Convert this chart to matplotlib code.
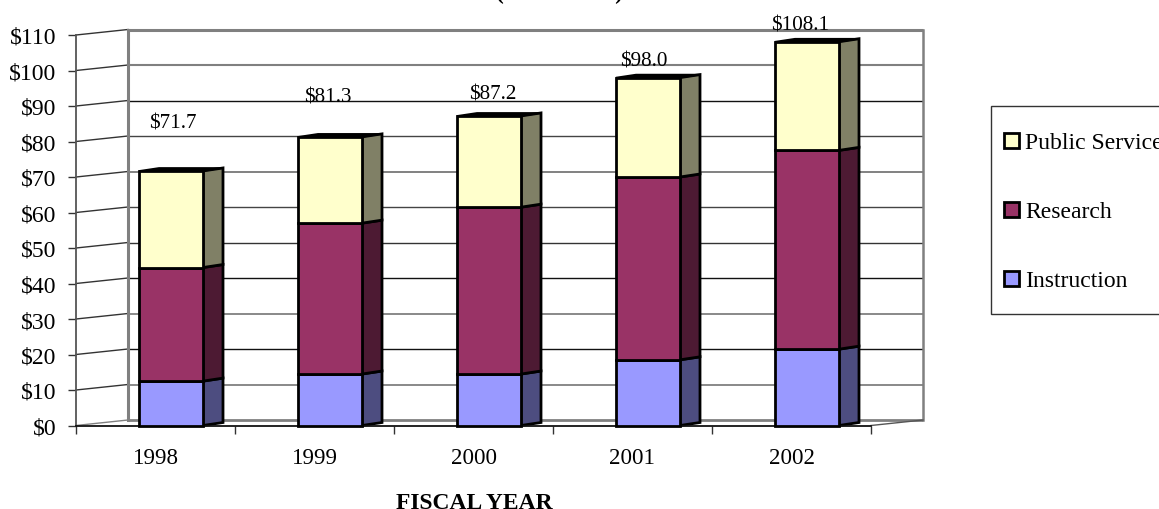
import matplotlib
matplotlib.use("Agg")
import matplotlib.pyplot as plt
from matplotlib.patches import Polygon, Rectangle

plt.rcParams['font.family'] = ['Liberation Serif', 'DejaVu Serif']

years = ['1998', '1999', '2000', '2001', '2002']
instruction = [12.5, 14.5, 14.5, 18.5, 21.5]
research = [32.0, 42.5, 47.0, 51.5, 56.0]
public_service = [27.2, 24.3, 25.7, 28.0, 30.6]
totals = [71.7, 81.3, 87.2, 98.0, 108.1]
y_ticks = [0, 10, 20, 30, 40, 50, 60, 70, 80, 90, 100, 110]
series_names = ['Instruction', 'Research', 'Public Service']

# styles / layout
W, H = 1159, 510
L, R, T, B = 76, 871, 36, 426.5
fronts = ['#9999FF', '#993366', '#FFFFCC']
sides = ['#4D4D80', '#4D1A33', '#808066']
grid_cols = ['#808080', '#808080', '#111111', '#808080', '#111111', '#333333',
             '#444444', '#777777', '#444444', '#111111', '#808080', '#808080']
grid_lws = [2.0, 1.3, 1.0, 1.3, 1.0, 1.0, 1.0, 1.3, 1.0, 1.0, 1.5, 2.2]
label_x_shift = [0.61, 0.585, 0.623, 0.572, 0.553]
label_gap = [13.5, 11.2, 6.2, 4.6, 4.6]

fig = plt.figure(figsize=(W / 100, H / 100), dpi=100)
ax = fig.add_axes([L / W, 1 - B / H, (R - L) / W, (B - T) / H])
ax.set_xlim(0, len(years))
ax.set_ylim(0, 110)
ax.patch.set_visible(False)

px_x = len(years) / (R - L)
px_y = 110 / (B - T)
wall_dx, wall_dy = 52 * px_x, 5.5 * px_y
bar_dx, bar_dy = 20 * px_x, 3 * px_y
bar_off, bar_w = 63 * px_x, 64 * px_x
n = len(years)

# walls and gridlines
for v, c, lw in zip(y_ticks, grid_cols, grid_lws):
    ax.plot([wall_dx, n + wall_dx], [v + wall_dy] * 2, color=c, lw=lw, clip_on=False, zorder=1,
            solid_capstyle='butt')
    ax.plot([0, wall_dx], [v, v + wall_dy], color='#333333' if v else '#808080', lw=1.0,
            clip_on=False, zorder=1)
ax.plot([wall_dx, wall_dx], [wall_dy, 110 + wall_dy], color='#808080', lw=2.2, clip_on=False, zorder=1)
ax.plot([n + wall_dx, n + wall_dx], [wall_dy, 110 + wall_dy], color='#808080', lw=1.8, clip_on=False, zorder=1)
ax.plot([n, n + wall_dx], [0, wall_dy], color='#555555', lw=1.0, clip_on=False, zorder=1)

# stacked 3D bars
bottom = [0.0] * n
for vals, fc, sc in zip([instruction, research, public_service], fronts, sides):
    xs = [i + bar_off for i in range(n)]
    ax.bar(xs, vals, width=bar_w, bottom=bottom, align='edge', color=fc,
           edgecolor='black', linewidth=2.0, zorder=3, clip_on=False)
    for x, b, v in zip(xs, bottom, vals):
        xr = x + bar_w
        ax.add_patch(Polygon([(xr, b), (xr + bar_dx, b + bar_dy), (xr + bar_dx, b + v + bar_dy), (xr, b + v)],
                             closed=True, facecolor=sc, edgecolor='black', linewidth=2.0,
                             zorder=2.5, clip_on=False))
    bottom = [b + v for b, v in zip(bottom, vals)]

# bar tops
for i, t in enumerate(bottom):
    x = i + bar_off
    ax.add_patch(Polygon([(x, t), (x + bar_dx, t + bar_dy), (x + bar_w + bar_dx, t + bar_dy), (x + bar_w, t)],
                         closed=True, facecolor='black', edgecolor='black', linewidth=1.2,
                         zorder=2.6, clip_on=False))
    ax.text(i + label_x_shift[i], totals[i] + label_gap[i], f'${totals[i]:.1f}',
            ha='center', va='center', fontsize=15.2, color='black', zorder=5)

# axes furniture
for s in ('top', 'right'):
    ax.spines[s].set_visible(False)
ax.spines['left'].set_color('#555555')
ax.spines['left'].set_linewidth(1.3)
ax.spines['bottom'].set_color('#111111')
ax.spines['bottom'].set_linewidth(1.3)
ax.set_yticks(y_ticks)
ax.set_yticklabels([f'${v}' for v in y_ticks], fontsize=17)
ax.tick_params(axis='y', length=5.8, width=1, color='#333333', pad=8.2)
ax.set_xticks([i + 0.5 for i in range(n)])
ax.set_xticklabels(years, fontsize=16.6)
ax.tick_params(axis='x', which='major', length=0, pad=15.5)
ax.set_xticks(list(range(n + 1)), minor=True)
ax.tick_params(axis='x', which='minor', length=5.8, width=1, color='#333333')

fig.text(474 / W, 1 - 509 / H, 'FISCAL YEAR', ha='center', va='baseline', fontsize=16.9, fontweight='bold')
fig.text(559 / W, 1 + 0.5 / H, '(In Millions)', ha='center', va='baseline', fontsize=17, fontweight='bold')

# legend (runs past the right edge of the picture, as in the reference)
fig.add_artist(Rectangle((990.5 / W, 1 - 314.5 / H), 220 / W, 207.5 / H, transform=fig.transFigure,
                         facecolor='white', edgecolor='#333333', linewidth=1.0))
leg_y = [141.5, 210.5, 279.5]
for name, fc, yc in zip(reversed(series_names), reversed(fronts), leg_y):
    fig.add_artist(Rectangle((1004 / W, 1 - (yc + 7.5) / H), 15 / W, 15 / H, transform=fig.transFigure,
                             facecolor=fc, edgecolor='black', linewidth=2.0))
    fig.text(1025 / W, 1 - (yc + 2) / H, name, ha='left', va='center', fontsize=17)

fig.savefig('out.png', dpi=100)
